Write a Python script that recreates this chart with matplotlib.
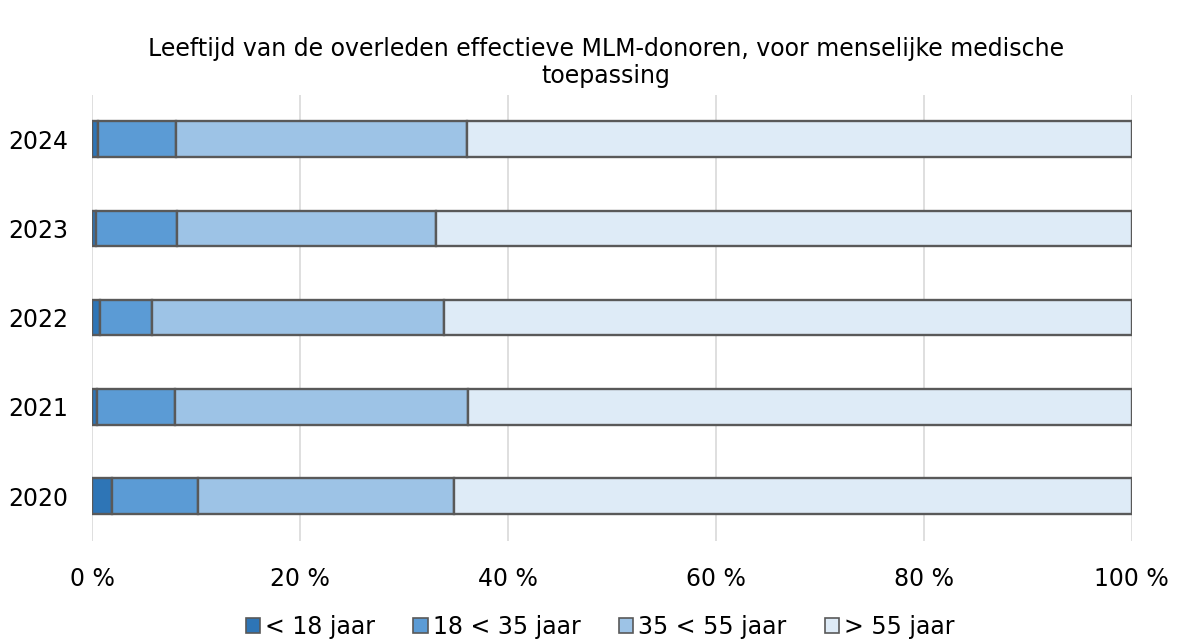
import matplotlib.pyplot as plt
import matplotlib.patches as mpatches
import numpy as np

plt.rcParams['font.family'] = ['DejaVu Sans']

years = ['2020', '2021', '2022', '2023', '2024']
series_names = ['< 18 jaar', '18 < 35 jaar', '35 < 55 jaar', '> 55 jaar']
under_18 = [1.95, 0.5, 0.8, 0.35, 0.55]
age_18_35 = [8.25, 7.5, 5.0, 7.85, 7.5]
age_35_55 = [24.6, 28.2, 28.1, 24.9, 28.05]
over_55 = [65.2, 63.8, 66.1, 66.9, 63.9]
x_ticks = [0, 20, 40, 60, 80, 100]
x_ticklabels = ['0 %', '20 %', '40 %', '60 %', '80 %', '100 %']

colors = ['#2E75B6', '#5B9BD5', '#9DC3E6', '#DEEBF7']
edge = '#595959'

fig = plt.figure(figsize=(11.79, 6.43), dpi=100)
ax = fig.add_axes([0.078, 0.159, 0.882, 0.694])

y = np.arange(len(years))
left = np.zeros(len(years))
for vals, name, col in zip([under_18, age_18_35, age_35_55, over_55], series_names, colors):
    ax.barh(y, vals, left=left, height=0.4, color=col, edgecolor=edge,
            linewidth=1.7, label=name, zorder=3)
    left += np.array(vals)

ax.set_xlim(0, 100)
ax.set_ylim(-0.5, 4.5)
ax.set_yticks(y)
ax.set_yticklabels(years, fontsize=17, color='#000000')
ax.set_xticks(x_ticks)
ax.set_xticklabels(x_ticklabels, fontsize=17, color='#000000')
ax.tick_params(axis='y', length=0, pad=17)
ax.tick_params(axis='x', length=0, pad=19)
ax.grid(axis='x', color='#D9D9D9', linewidth=1.2, zorder=0)
for s in ax.spines.values():
    s.set_visible(False)

fig.text(0.514, 0.903, 'Leeftijd van de overleden effectieve MLM-donoren, voor menselijke medische\ntoepassing',
         ha='center', va='center', fontsize=17, linespacing=1.15)

handles = [mpatches.Patch(facecolor=c, edgecolor=edge, linewidth=1.2, label=n)
           for c, n in zip(colors, series_names)]
fig.legend(handles=handles, loc='center', bbox_to_anchor=(0.509, 0.025), ncol=4,
           frameon=False, fontsize=17, handlelength=0.62, handleheight=0.62,
           handletextpad=0.2, columnspacing=1.62, borderpad=0)

plt.savefig('out.png', dpi=100, facecolor='white')
